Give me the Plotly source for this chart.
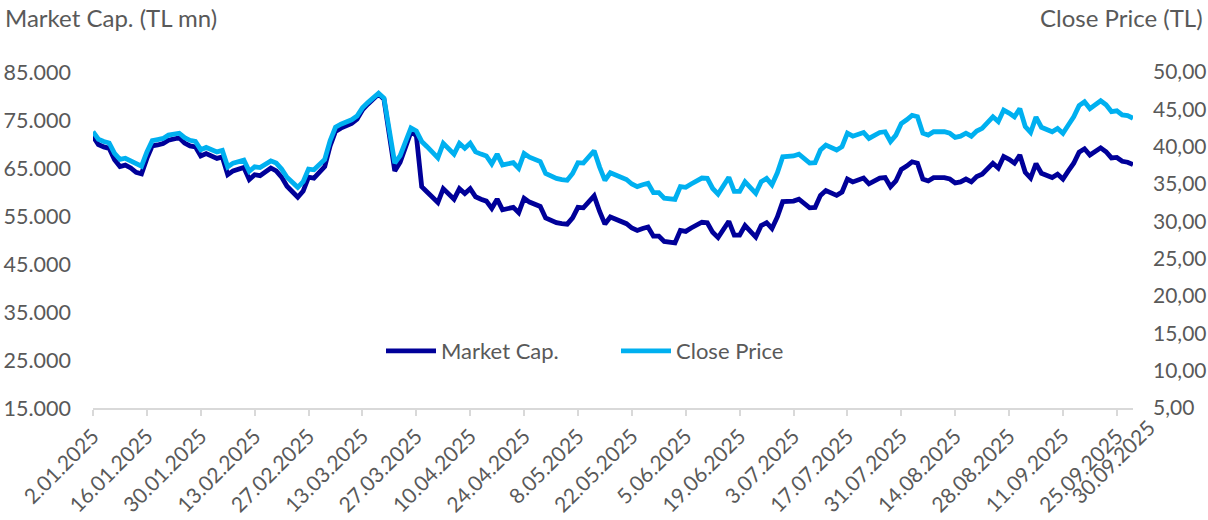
import pandas as pd
import plotly.graph_objects as go

# Trading days (weekdays) 2 Jan 2025 - 30 Sep 2025
dates = pd.bdate_range("2025-01-02", "2025-09-30").strftime("%Y-%m-%d").tolist()

close_price = [
    42.0, 41.0, 40.7, 40.5, 39.1, 38.3, 38.45, 38.1, 37.6, 37.4,
    39.3, 40.8, 40.95, 41.1, 41.55, 41.7, 41.8, 41.2, 40.85, 40.7,
    39.6, 39.9, 39.6, 39.3, 39.5, 37.3, 37.8, 38.0, 38.2, 36.7,
    37.3, 37.2, 37.7, 38.1, 37.8, 37.0, 35.9, 35.2, 34.55, 35.3,
    37.0, 36.9, 37.6, 38.3, 40.8, 42.6, 43.0, 43.3, 43.6, 44.1,
    45.2, 45.9, 46.6, 47.15, 46.5, 42.0, 37.8, 38.8, 40.5, 42.5,
    42.1, 40.7, 40.0, 39.3, 38.5, 40.45, 39.8, 39.0, 40.45, 39.8,
    40.45, 39.3, 39.0, 38.75, 37.7, 39.0, 37.55, 37.7, 37.85, 37.1,
    39.1, 38.6, 38.3, 38.0, 36.4, 36.0, 35.75, 35.6, 35.5, 36.4,
    37.85, 37.8, 38.6, 39.45, 37.3, 35.5, 36.5, 36.2, 35.9, 35.6,
    35.0, 34.65, 34.9, 35.1, 33.85, 33.85, 33.1, 33.0, 32.95, 34.65,
    34.55, 35.0, 35.4, 35.8, 35.75, 34.4, 33.65, 34.8, 35.9, 34.0,
    34.0, 35.3, 34.5, 33.75, 35.3, 35.75, 34.9, 36.5, 38.65, 38.7,
    38.75, 39.0, 38.4, 37.8, 37.85, 39.55, 40.2, 39.9, 39.55, 40.0,
    41.8, 41.4, 41.6, 41.9, 41.1, 41.5, 41.9, 42.0, 40.7, 41.55,
    43.1, 43.6, 44.2, 44.0, 41.8, 41.55, 42.0, 42.0, 42.0, 41.8,
    41.25, 41.4, 41.8, 41.4, 42.1, 42.45, 43.2, 44.0, 43.35, 44.9,
    44.5, 44.0, 45.1, 42.7, 41.9, 43.95, 42.6, 42.3, 42.0, 42.45,
    41.8, 42.9, 44.0, 45.5, 46.0, 45.1, 45.6, 46.15, 45.6, 44.7,
    44.8, 44.25, 44.15, 43.8,
]

market_cap = [
    71600, 69900, 69400, 69100, 66700, 65300, 65600, 65000, 64100, 63800,
    67000, 69600, 69800, 70100, 70800, 71100, 71300, 70200, 69600, 69400,
    67500, 68000, 67500, 67000, 67300, 63600, 64400, 64800, 65100, 62600,
    63600, 63400, 64300, 65000, 64400, 63100, 61200, 60000, 58900, 60200,
    63100, 62900, 64100, 65300, 69600, 72600, 73300, 73800, 74300, 75200,
    77100, 78300, 79500, 80400, 79300, 71600, 64400, 66200, 69100, 72500,
    71800, 61100, 60000, 59000, 57800, 60700, 59700, 58500, 60700, 59700,
    60700, 59000, 58500, 58100, 56600, 58500, 56300, 56600, 56800, 55700,
    58700, 57900, 57500, 57000, 54600, 54000, 53600, 53400, 53300, 54600,
    56800, 56700, 57900, 59200, 56000, 53300, 54800, 54300, 53900, 53400,
    52500, 52000, 52400, 52700, 50800, 50800, 49700, 49500, 49400, 52000,
    51800, 52500, 53100, 53700, 53600, 51600, 50500, 52200, 53900, 51000,
    51000, 53000, 51800, 50600, 53000, 53600, 52400, 54800, 58000, 58100,
    58100, 58500, 57600, 56700, 56800, 59300, 60300, 59900, 59300, 60000,
    62700, 62100, 62400, 62900, 61700, 62300, 62900, 63000, 61100, 62300,
    64700, 65400, 66300, 66000, 62700, 62300, 63000, 63000, 63000, 62700,
    61900, 62100, 62700, 62100, 63200, 63700, 64800, 66000, 65000, 67400,
    66800, 66000, 67700, 64100, 62900, 65900, 63900, 63500, 63000, 63700,
    62700, 64400, 66000, 68300, 69000, 67700, 68400, 69200, 68400, 67100,
    67200, 66400, 66200, 65700,
]

tick_dates = [
    "2025-01-02", "2025-01-16", "2025-01-30", "2025-02-13", "2025-02-27",
    "2025-03-13", "2025-03-27", "2025-04-10", "2025-04-24", "2025-05-08",
    "2025-05-22", "2025-06-05", "2025-06-19", "2025-07-03", "2025-07-17",
    "2025-07-31", "2025-08-14", "2025-08-28", "2025-09-11", "2025-09-25",
]
tick_labels = [
    "2.01.2025", "16.01.2025", "30.01.2025", "13.02.2025", "27.02.2025",
    "13.03.2025", "27.03.2025", "10.04.2025", "24.04.2025", "8.05.2025",
    "22.05.2025", "5.06.2025", "19.06.2025", "3.07.2025", "17.07.2025",
    "31.07.2025", "14.08.2025", "28.08.2025", "11.09.2025", "25.09.2025",
]
last_label = "30.09.2025"

FONT = "Lato"
GREY = "#595959"
NAVY = "#000099"
CYAN = "#00B0F0"

fig = go.Figure()
fig.add_trace(go.Scatter(x=dates, y=market_cap, name="Market Cap.", mode="lines",
                         line=dict(color=NAVY, width=4.8), yaxis="y"))
fig.add_trace(go.Scatter(x=dates, y=close_price, name="Close Price", mode="lines",
                         line=dict(color=CYAN, width=4.8), yaxis="y2"))

W, H = 1208, 520
L, R, T, B = 93, 1133, 72, 408
PW, PH = R - L, B - T


def px(xp):
    return (xp - L) / PW


def py(yp):
    return (B - yp) / PH


fig.update_layout(
    width=W, height=H,
    margin=dict(l=L, r=W - R, t=T, b=H - B, pad=0, autoexpand=False),
    paper_bgcolor="white", plot_bgcolor="white",
    separators=",.",
    font=dict(family=FONT, size=22, color=GREY),
    showlegend=True,
    legend=dict(orientation="h", x=px(616), xanchor="center",
                y=py(351), yanchor="middle",
                font=dict(family=FONT, size=22, color=GREY),
                bgcolor="rgba(0,0,0,0)", itemwidth=50, tracegroupgap=0,
                entrywidth=170, entrywidthmode="pixels"),
    xaxis=dict(type="category", range=[0, len(dates) - 1], automargin=False,
               tickvals=tick_dates, ticktext=tick_labels, tickangle=-45,
               showgrid=False, zeroline=False,
               showline=True, linecolor="#D9D9D9", linewidth=1.5,
               ticks="outside", ticklen=6, tickcolor="#D9D9D9", tickwidth=1.5,
               tickfont=dict(family=FONT, size=21, color=GREY)),
    yaxis=dict(range=[15000, 85000], tickvals=list(range(15000, 85001, 10000)),
               tickformat=",d", showgrid=False, zeroline=False, showline=False,
               ticks="", ticklabelstandoff=21, automargin=False,
               tickfont=dict(family=FONT, size=21.5, color=GREY)),
    yaxis2=dict(range=[5, 50], tickvals=list(range(5, 51, 5)), tickformat=".2f",
                overlaying="y", side="right", showgrid=False, zeroline=False,
                showline=False, ticks="", ticklabelstandoff=19, automargin=False,
                tickfont=dict(family=FONT, size=21, color=GREY)),
    annotations=[
        dict(text="Market Cap. (TL mn)", xref="paper", yref="paper",
             x=px(3), y=py(18), xanchor="left", yanchor="middle",
             showarrow=False, font=dict(family=FONT, size=24, color=GREY)),
        dict(text="Close Price (TL)", xref="paper", yref="paper",
             x=px(1205), y=py(18), xanchor="right", yanchor="middle",
             showarrow=False, font=dict(family=FONT, size=24, color=GREY)),
        dict(text=last_label, xref="paper", yref="paper",
             x=px(1162), y=py(412), xanchor="right", yanchor="top",
             textangle=-45, showarrow=False,
             font=dict(family=FONT, size=21, color=GREY)),
    ],
)

fig.write_html("out.html", config={"displayModeBar": False},
               post_script="document.body.style.margin='0';")
